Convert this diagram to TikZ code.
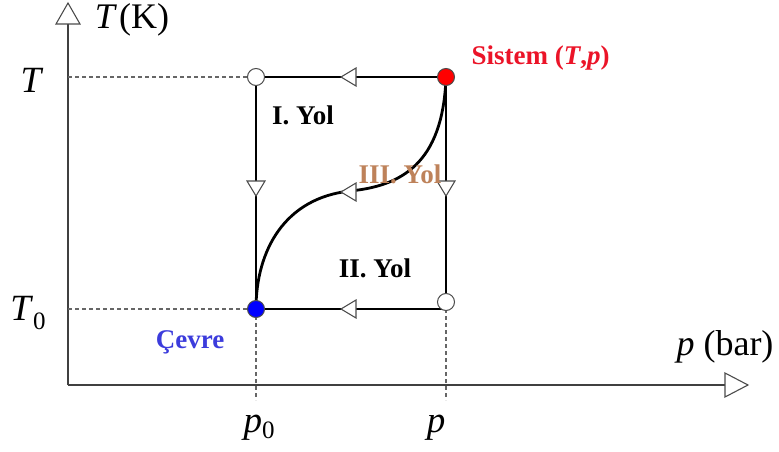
\documentclass[tikz,border=0pt]{standalone}
\usepackage{fontspec}
\setmainfont{Liberation Serif}
\definecolor{sysred}{RGB}{235,20,40}
\definecolor{envblue}{RGB}{60,60,220}
\definecolor{pathbrown}{RGB}{190,130,90}
\begin{document}
\begin{tikzpicture}[x=1pt,y=-1pt,
  axis/.style={draw=black!75,line width=1.5pt},
  guide/.style={draw=black!60,line width=1.1pt,dash pattern=on 4pt off 3pt},
  pathline/.style={draw=black,line width=2.8pt},
  opentri/.style={draw=black!70,fill=white,line width=1.1pt},
  state/.style={circle,draw=black!70,line width=1pt,minimum size=17pt,inner sep=0pt},
  bigm/.style={font=\fontsize{37}{39}\selectfont},
  axl/.style={font=\fontsize{36}{38}\selectfont},
  yol/.style={font=\fontsize{27}{29}\selectfont\bfseries}]
\useasboundingbox (0,0) rectangle (779,452);
% axes
\coordinate (O) at (68,385);
\coordinate (Ytop) at (68,22);
\coordinate (Xend) at (725,385);
\draw[axis] (O) -- (Ytop);
\draw[axis] (O) -- (Xend);
\draw[opentri] (56,24) -- (68,3) -- (80,24) -- cycle;
\draw[opentri] (725,373) -- (748,385) -- (725,397) -- cycle;
% state points
\coordinate (a) at (256,77);
\coordinate (s) at (446,77);
\coordinate (e) at (256,309);
\coordinate (b) at (446,302);
\coordinate (bb) at (446,309);
% guides
\coordinate (yT) at (68,77);
\coordinate (yT0) at (68,309);
\coordinate (xp0) at (256,400);
\coordinate (xp) at (446,400);
\draw[guide] (yT) -- (a);
\draw[guide] (yT0) -- (e);
\draw[guide] (e) -- (xp0);
\draw[guide] (b) -- (xp);
% paths
\draw[pathline] (s) -- (a);
\draw[pathline] (a) -- (e);
\draw[pathline] (s) -- (b);
\draw[pathline] (bb) -- (e);
\draw[pathline] (s) .. controls (443,165) and (400,186) .. (350,191) .. controls (285,198) and (256,250) .. (e);
% path arrows (open triangles)
\draw[opentri] (341,77) -- (356,68) -- (356,86) -- cycle;
\draw[opentri] (341,309) -- (356,300) -- (356,318) -- cycle;
\draw[opentri] (341,192) -- (356,183) -- (356,201) -- cycle;
\draw[opentri] (256,196) -- (247,181) -- (265,181) -- cycle;
\draw[opentri] (446,196) -- (437,181) -- (455,181) -- cycle;
% circles
\node[state,fill=white] (A) at (a) {};
\node[state,fill=red] (S) at (s) {};
\node[state,fill=blue] (E) at (e) {};
\node[state,fill=white] (B) at (b) {};
% labels
\node[axl] (TK) at (132,20) {\textit{T}\kern2pt(K)};
\node[axl] (pbar) at (725,347) {\textit{p} (bar)};
\node[bigm] (lT) at (32,80) {\textit{T}};
\node[bigm] (lT0) at (28,313) {\textit{T}\raisebox{-0.25em}{\fontsize{25}{27}\selectfont 0}};
\node[bigm] (lp0) at (259,428) {\textit{p}\raisebox{-0.15em}{\fontsize{25}{27}\selectfont 0}};
\node[bigm] (lp) at (436,428) {\textit{p}};
\node[yol,text=sysred,anchor=west] (lS) at (468,58) {Sistem (\textit{T},\textit{p})};
\node[yol] (l1) at (303,115) {I. Yol};
\node[yol] (l2) at (375,268) {II. Yol};
\node[yol,text=pathbrown] (l3) at (400,174) {III. Yol};
\node[yol,text=envblue] (lE) at (190,342) {Çevre};
\end{tikzpicture}
\end{document}
